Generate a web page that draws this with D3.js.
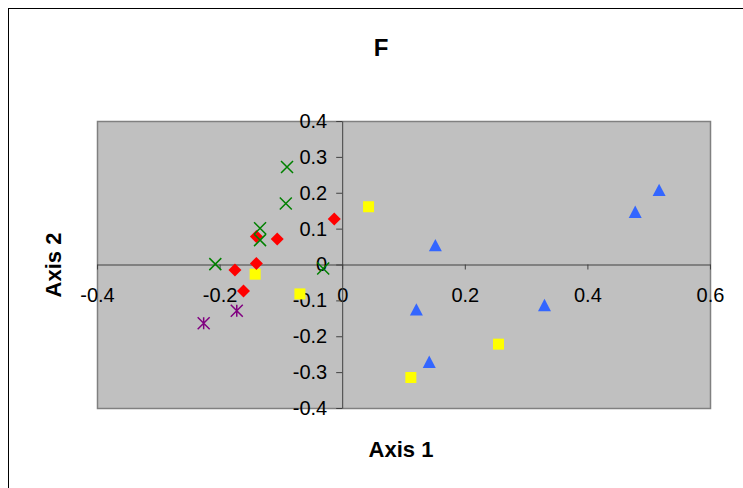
<!DOCTYPE html>
<html>
<head>
<meta charset="utf-8">
<script src="https://cdn.jsdelivr.net/npm/d3@7"></script>
<style>
  body { margin: 0; background: #fff; }
  svg { display: block; font-family: "Liberation Sans", Arial, sans-serif; }
</style>
</head>
<body>
<div id="chart"></div>
<script>
'use strict';

// chart values
var chartTitle = 'F';
var xLabel = 'Axis 1';
var yLabel = 'Axis 2';
var xTicks = [-0.4, -0.2, 0, 0.2, 0.4, 0.6];
var yTicks = [-0.4, -0.3, -0.2, -0.1, 0, 0.1, 0.2, 0.3, 0.4];

var triangleX = [0.152, 0.478, 0.517, 0.121, 0.330, 0.142];
var triangleY = [0.054, 0.147, 0.208, -0.125, -0.113, -0.271];

var squareX = [0.043, -0.142, -0.069, 0.255, 0.112];
var squareY = [0.161, -0.027, -0.082, -0.222, -0.315];

var diamondX = [-0.013, -0.140, -0.106, -0.140, -0.175, -0.161];
var diamondY = [0.127, 0.078, 0.071, 0.003, -0.015, -0.074];

var crossX = [-0.090, -0.092, -0.134, -0.134, -0.207, -0.031];
var crossY = [0.272, 0.170, 0.101, 0.068, 0.001, -0.011];

var starX = [-0.172, -0.226];
var starY = [-0.129, -0.164];

var width = 743,
    height = 488;

var plot = { left: 97, top: 121, right: 710, bottom: 408 };

var svg = d3.select('#chart').append('svg')
    .attr('width', width)
    .attr('height', height);

// outer chart frame (runs off the right and bottom edges)
svg.append('rect')
    .attr('x', 8.5).attr('y', 8.5)
    .attr('width', 800).attr('height', 600)
    .attr('fill', '#fff')
    .attr('stroke', '#000')
    .attr('stroke-width', 1);

var x = d3.scaleLinear().domain([-0.4, 0.6]).range([plot.left, plot.right]);
var y = d3.scaleLinear().domain([-0.4, 0.4]).range([plot.bottom, plot.top]);

svg.append('rect')
    .attr('x', plot.left + 0.5).attr('y', plot.top + 0.5)
    .attr('width', plot.right - plot.left)
    .attr('height', plot.bottom - plot.top)
    .attr('fill', '#c0c0c0')
    .attr('stroke', '#808080')
    .attr('stroke-width', 1.5);

var fmt = function(d) {
    return d === 0 ? '0' : d.toFixed(1);
};

var xAxis = svg.append('g')
    .attr('transform', 'translate(0,' + y(0) + ')')
    .call(d3.axisBottom(x).tickValues(xTicks).tickFormat(fmt)
        .tickSizeInner(5).tickSizeOuter(0).tickPadding(18));

var yAxis = svg.append('g')
    .attr('transform', 'translate(' + x(0) + ',0)')
    .call(d3.axisLeft(y).tickValues(yTicks).tickFormat(fmt)
        .tickSizeInner(6).tickSizeOuter(0).tickPadding(9));

[xAxis, yAxis].forEach(function(a) {
    a.select('.domain').attr('stroke', '#404040');
    a.selectAll('.tick line').attr('stroke', '#404040');
    a.selectAll('.tick text')
        .attr('fill', '#000')
        .style('font-size', '20px')
        .style('font-family', '"Liberation Sans", Arial, sans-serif');
});

// marker shapes
var shapes = {
    triangle: function(s) {
        var h = s * 0.95;
        return 'M0,' + (-h / 2) + 'L' + (s / 2) + ',' + (h / 2) + 'L' + (-s / 2) + ',' + (h / 2) + 'Z';
    },
    square: function(s) {
        return 'M' + (-s / 2) + ',' + (-s / 2) + 'h' + s + 'v' + s + 'h' + (-s) + 'Z';
    },
    diamond: function(s) {
        var r = s / 2;
        return 'M0,' + (-r) + 'L' + r + ',0L0,' + r + 'L' + (-r) + ',0Z';
    },
    cross: function(s) {
        var r = s / 2;
        return 'M' + (-r) + ',' + (-r) + 'L' + r + ',' + r + 'M' + r + ',' + (-r) + 'L' + (-r) + ',' + r;
    },
    star: function(s) {
        var r = s / 2;
        return 'M' + (-r) + ',' + (-r) + 'L' + r + ',' + r + 'M' + r + ',' + (-r) + 'L' + (-r) + ',' + r +
            'M0,' + (-r) + 'L0,' + r;
    }
};

var series = [
    { xs: squareX, ys: squareY, shape: 'square', size: 11, fill: '#ffff00', stroke: 'none' },
    { xs: diamondX, ys: diamondY, shape: 'diamond', size: 13, fill: '#ff0000', stroke: 'none' },
    { xs: crossX, ys: crossY, shape: 'cross', size: 12, fill: 'none', stroke: '#008000' },
    { xs: starX, ys: starY, shape: 'star', size: 12, fill: 'none', stroke: '#800080' },
    { xs: triangleX, ys: triangleY, shape: 'triangle', size: 13, fill: '#3366ff', stroke: 'none' }
];

series.forEach(function(s) {
    svg.append('g')
        .selectAll('path')
        .data(d3.range(s.xs.length))
        .enter().append('path')
        .attr('transform', function(i) {
            return 'translate(' + x(s.xs[i]) + ',' + y(s.ys[i]) + ')';
        })
        .attr('d', shapes[s.shape](s.size))
        .attr('fill', s.fill)
        .attr('stroke', s.stroke)
        .attr('stroke-width', s.stroke === 'none' ? 0 : 1.5);
});

// titles
svg.append('text')
    .attr('x', 381).attr('y', 56)
    .attr('text-anchor', 'middle')
    .style('font-size', '24px').style('font-weight', 'bold')
    .text(chartTitle);

svg.append('text')
    .attr('x', 401).attr('y', 457)
    .attr('text-anchor', 'middle')
    .style('font-size', '22px').style('font-weight', 'bold')
    .text(xLabel);

svg.append('text')
    .attr('transform', 'translate(61,265) rotate(-90)')
    .attr('text-anchor', 'middle')
    .style('font-size', '22px').style('font-weight', 'bold')
    .text(yLabel);
</script>
</body>
</html>
